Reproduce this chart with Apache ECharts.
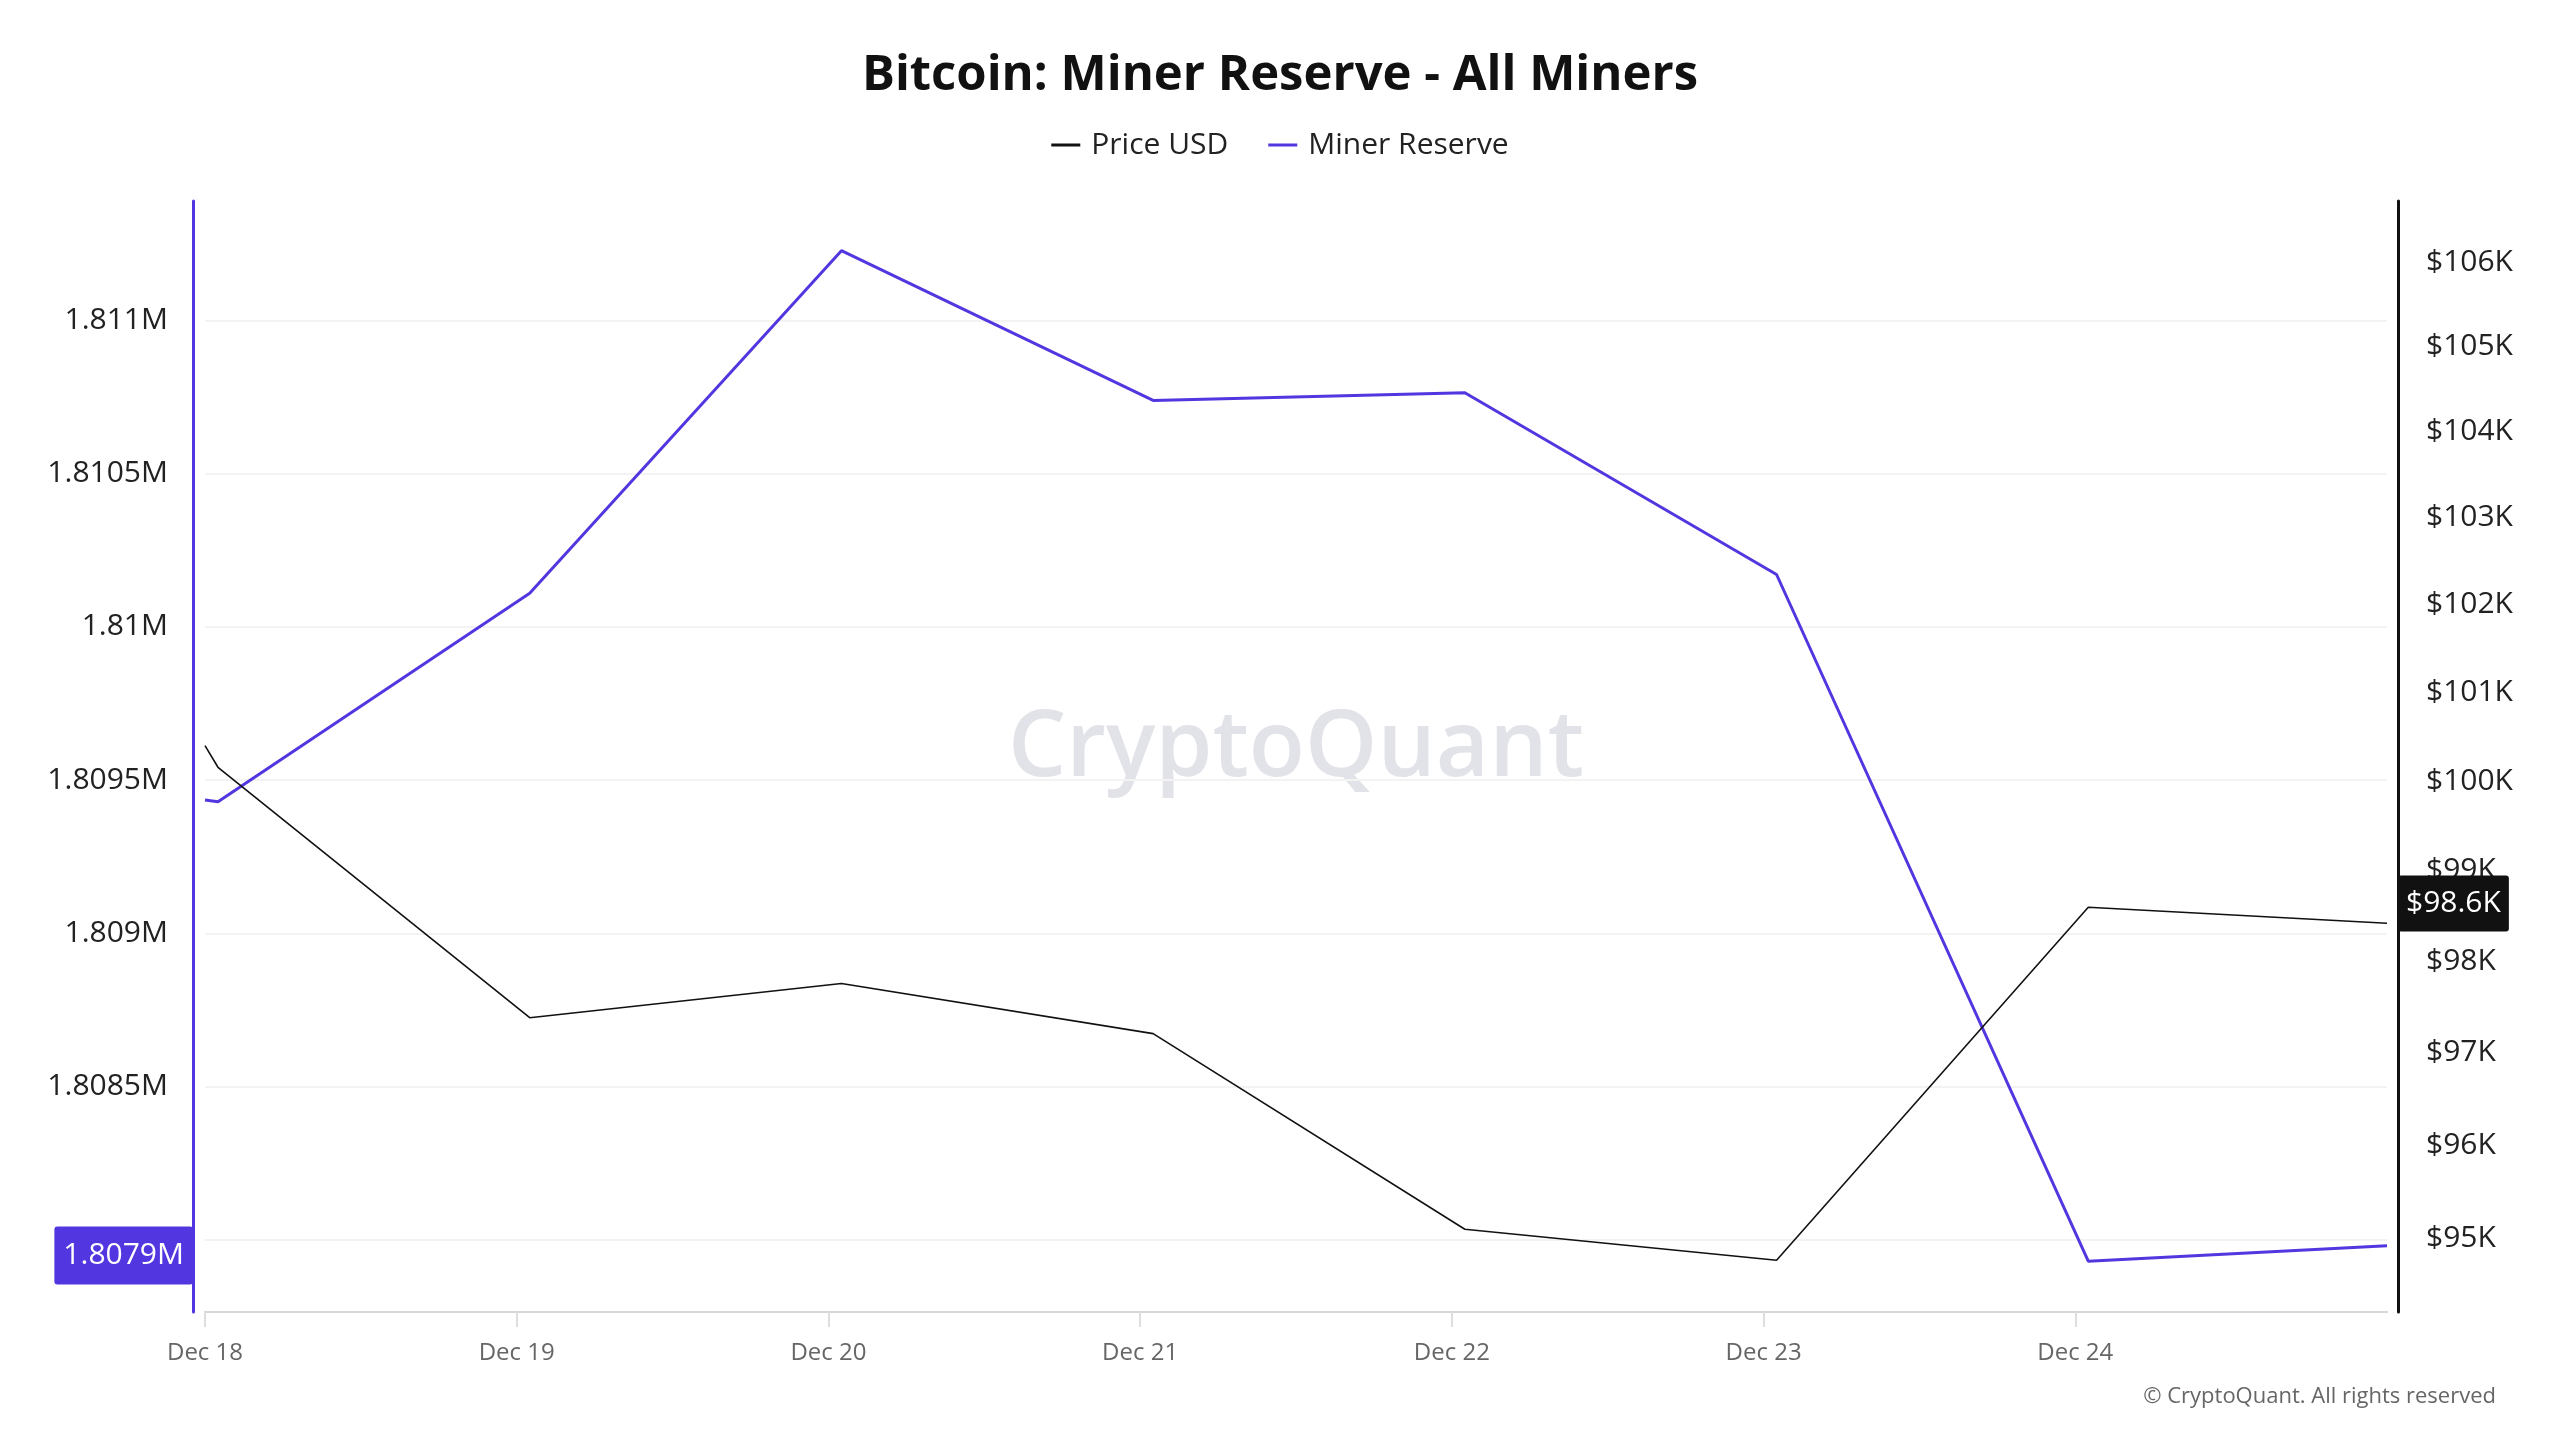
<!DOCTYPE html>
<html>
<head>
<meta charset="utf-8">
<title>Bitcoin: Miner Reserve - All Miners</title>
<script src="https://cdn.jsdelivr.net/npm/echarts@6/dist/echarts.min.js"></script>
<style>
  html, body { margin: 0; padding: 0; background: #fff; }
  #myChart { width: 2560px; height: 1440px; }
</style>
</head>
<body>
<div id="myChart"></div>
<script>
// data
const dates = [
  '2024-12-18T00:00:00Z', '2024-12-18T01:00:00Z', '2024-12-19T01:00:00Z',
  '2024-12-20T01:00:00Z', '2024-12-21T01:00:00Z', '2024-12-22T01:00:00Z',
  '2024-12-23T01:00:00Z', '2024-12-24T01:00:00Z', '2024-12-25T00:00:00Z'
];
const priceUsd = [100401, 100158, 97383, 97758, 97209, 95099, 94769, 98597, 98420];
const minerReserve = [1809435, 1809429, 1810110, 1811228, 1810739, 1810764, 1810171, 1807930, 1807980];

// latest values shown in the axis badges
const latestPrice = 98640;
const latestReserve = 1807948;

// axis ranges and ticks
const reserveMin = 1807764;
const reserveMax = 1811390;
const priceMin = 94220;
const priceMax = 106728;
const priceTicks = [95000, 96000, 97000, 98000, 99000, 100000, 101000, 102000, 103000, 104000, 105000, 106000];

const FONT = '"Open Sans", "Noto Sans", sans-serif';
const PURPLE = '#5236e0';

const myChart = echarts.init(document.getElementById('myChart'));

const times = dates.map(d => Date.parse(d));
const priceData = times.map((t, i) => [t, Math.log10(priceUsd[i])]);
const reserveData = times.map((t, i) => [t, minerReserve[i]]);

myChart.setOption({
  animation: false,
  useUTC: true,
  backgroundColor: '#fff',
  textStyle: { fontFamily: FONT },
  title: {
    text: 'Bitcoin: Miner Reserve - All Miners',
    left: 'center',
    top: 47,
    textStyle: { fontSize: 49, fontWeight: 'bold', color: '#111', fontFamily: FONT }
  },
  legend: {
    top: 125,
    left: 'center',
    icon: 'rect',
    itemWidth: 29,
    itemHeight: 3,
    itemGap: 40,
    textStyle: { fontSize: 30, color: '#222', fontFamily: FONT, padding: [0, 0, 0, 6] },
    data: ['Price USD', 'Miner Reserve']
  },
  grid: { left: 205, right: 173, top: 201, bottom: 128 },
  xAxis: {
    type: 'time',
    min: times[0],
    max: times[times.length - 1],
    splitNumber: 7,
    minInterval: 24 * 3600 * 1000,
    maxInterval: 24 * 3600 * 1000,
    axisLine: { show: true, lineStyle: { color: '#d6d6d6', width: 2 } },
    axisTick: { show: true, length: 15, lineStyle: { color: '#dedede', width: 2 } },
    splitLine: { show: false },
    axisLabel: {
      formatter: '{MMM} {d}',
      fontSize: 24,
      color: '#666',
      margin: 29,
      showMinLabel: true,
      showMaxLabel: false,
      hideOverlap: false
    }
  },
  yAxis: [
    {
      type: 'value',
      position: 'left',
      offset: 12,
      min: reserveMin,
      max: reserveMax,
      minInterval: 500,
      maxInterval: 500,
      axisLine: { show: true, lineStyle: { color: PURPLE, width: 3 } },
      axisTick: { show: false },
      splitLine: { show: true, showMaxLine: false, showMinLine: false, lineStyle: { color: '#f3f3f3', width: 2 } },
      axisLabel: {
        fontSize: 30,
        color: '#222',
        margin: 25,
        padding: [0, 0, 12, 0],
        showMinLabel: false,
        showMaxLabel: false,
        formatter: v => parseFloat((v / 1e6).toFixed(4)) + 'M'
      },
      axisPointer: {
        show: true,
        type: 'line',
        value: latestReserve,
        status: 'show',
        triggerTooltip: false,
        lineStyle: { color: 'transparent', width: 0 },
        label: {
          show: true,
          margin: 0,
          fontSize: 30,
          color: '#fff',
          fontFamily: FONT,
          backgroundColor: PURPLE,
          padding: [14, 9, 14, 9],
          formatter: p => (Math.floor(p.value / 100) / 1e4).toFixed(4) + 'M'
        }
      }
    },
    {
      type: 'value',
      position: 'right',
      offset: 11,
      min: Math.log10(priceMin),
      max: Math.log10(priceMax),
      axisLine: { show: true, lineStyle: { color: '#111', width: 3 } },
      axisTick: { show: false },
      splitLine: { show: false },
      axisLabel: {
        fontSize: 30,
        color: '#222',
        margin: 28,
        padding: [0, 0, 12, 0],
        customValues: priceTicks.map(v => Math.log10(v)),
        formatter: v => '$' + Math.round(Math.pow(10, v) / 1000) + 'K'
      },
      axisPointer: {
        show: true,
        type: 'line',
        value: Math.log10(latestPrice),
        status: 'show',
        triggerTooltip: false,
        lineStyle: { color: 'transparent', width: 0 },
        label: {
          show: true,
          margin: 0,
          fontSize: 30,
          color: '#fff',
          fontFamily: FONT,
          backgroundColor: '#111',
          padding: [13, 8, 13, 8],
          formatter: p => '$' + (Math.pow(10, p.value) / 1000).toFixed(1) + 'K'
        }
      }
    }
  ],
  graphic: [
    {
      type: 'text',
      x: 1296,
      y: 750,
      z: -10,
      silent: true,
      style: {
        text: 'CryptoQuant',
        font: '600 92px ' + FONT,
        fill: '#e2e2e9',
        textAlign: 'center',
        textVerticalAlign: 'middle'
      }
    },
    {
      type: 'text',
      x: 2496,
      y: 1397,
      silent: true,
      style: {
        text: '\u00a9 CryptoQuant. All rights reserved',
        font: '22px ' + FONT,
        fill: '#666',
        textAlign: 'right',
        textVerticalAlign: 'middle'
      }
    }
  ],
  series: [
    {
      name: 'Price USD',
      type: 'line',
      yAxisIndex: 1,
      data: priceData,
      symbol: 'none',
      z: 3,
      itemStyle: { color: '#111' },
      lineStyle: { color: '#111', width: 1.6 }
    },
    {
      name: 'Miner Reserve',
      type: 'line',
      yAxisIndex: 0,
      data: reserveData,
      symbol: 'none',
      z: 2,
      itemStyle: { color: PURPLE },
      lineStyle: { color: PURPLE, width: 3 }
    }
  ]
});
</script>
</body>
</html>
